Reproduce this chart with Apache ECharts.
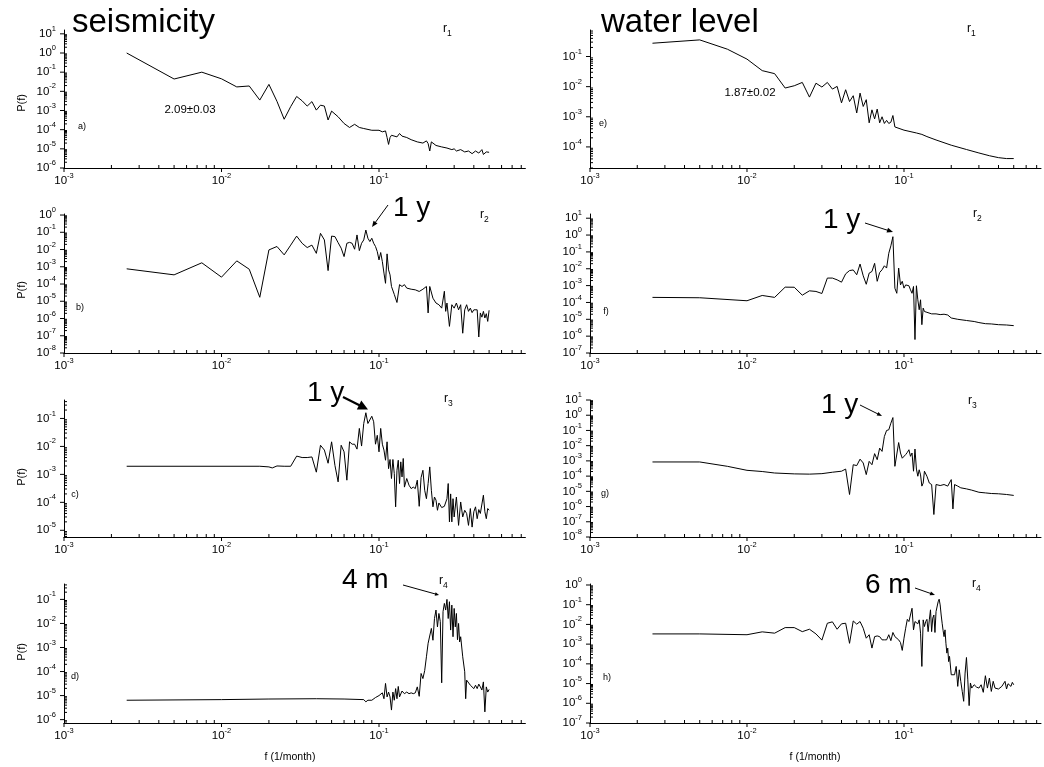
<!DOCTYPE html>
<html><head><meta charset="utf-8">
<script src="https://cdn.jsdelivr.net/npm/echarts@6/dist/echarts.min.js"></script>
<style>html,body{margin:0;padding:0;background:#fff}#c{width:1044px;height:767px}</style>
</head><body><div id="c"></div>
<script>
// ---------------- DATA ----------------
const seisR1 = [[0.0025,1.0],[0.005,0.044],[0.0075,0.1],[0.01,0.045],[0.0125,0.017],[0.015,0.019],[0.0175,0.0035],[0.02,0.023],[0.0225,0.003],[0.025,3.5e-4],[0.0275,1.6e-3],[0.03,5.4e-3],[0.0325,3.2e-3],[0.035,1.7e-3],[0.0375,2.9e-3],[0.04,1.05e-3],[0.0425,1.9e-3],[0.045,1.7e-3],[0.0475,3.2e-4],[0.05,9.3e-4],[0.055,4.7e-4],[0.06,2.1e-4],[0.065,1.3e-4],[0.07,1.9e-4],[0.075,1.3e-4],[0.08,1.15e-4],[0.09,9.3e-5],[0.1,9.3e-5],[0.105,7.7e-5],[0.11,8.6e-5],[0.1125,3.9e-5],[0.115,1.7e-5],[0.1175,3.9e-5],[0.12,5.1e-5],[0.13,4.2e-5],[0.135,6.3e-5],[0.14,4.6e-5],[0.15,3.9e-5],[0.16,3e-5],[0.175,2.3e-5],[0.19,2e-5],[0.2,2.6e-5],[0.205,1.9e-5],[0.21,7.7e-6],[0.215,2.3e-5],[0.22,2e-5],[0.23,1.5e-5],[0.25,1.26e-5],[0.27,1.1e-5],[0.29,9.1e-6],[0.3,1e-5],[0.31,7.7e-6],[0.33,9.1e-6],[0.35,6.9e-6],[0.37,7.7e-6],[0.39,5.6e-6],[0.41,7.7e-6],[0.43,6e-6],[0.45,9.1e-6],[0.46,5.1e-6],[0.48,6.9e-6],[0.5,6.6e-6]];
const waterR1 = [[0.0025,0.276],[0.005,0.356],[0.0075,0.175],[0.01,0.082],[0.0125,0.034],[0.015,0.027],[0.0175,0.009],[0.02,0.0107],[0.0225,0.0138],[0.025,0.0045],[0.0275,0.013],[0.03,0.0097],[0.0325,0.0138],[0.035,0.0083],[0.0375,0.0102],[0.04,0.0029],[0.0425,0.0079],[0.045,0.0032],[0.0475,0.005],[0.05,0.00134],[0.0525,0.0061],[0.055,0.0022],[0.0575,0.0037],[0.06,6.3e-4],[0.0625,0.0017],[0.065,8.5e-4],[0.0675,0.0018],[0.07,6.3e-4],[0.0725,1e-3],[0.075,6e-4],[0.0775,7.6e-4],[0.08,6e-4],[0.0825,6.6e-4],[0.085,1.1e-3],[0.0875,4.6e-4],[0.09,4.3e-4],[0.1,3.6e-4],[0.12,2.9e-4],[0.13,2.6e-4],[0.14,2.2e-4],[0.16,1.7e-4],[0.2,1.14e-4],[0.25,8.2e-5],[0.3,6.3e-5],[0.35,5.1e-5],[0.4,4.4e-5],[0.45,4.1e-5],[0.5,4.1e-5]];
const seisR2 = [[0.0025,7.6e-4],[0.005,3.4e-4],[0.0075,1.7e-3],[0.01,2.5e-4],[0.0125,2.2e-3],[0.015,7.2e-4],[0.0175,1.7e-5],[0.02,9.5e-3],[0.0225,0.015],[0.025,4.9e-3],[0.0275,0.018],[0.03,0.06],[0.0325,0.023],[0.035,0.013],[0.0375,0.018],[0.04,6e-3],[0.0425,0.087],[0.045,0.036],[0.0475,6e-4],[0.05,0.06],[0.0525,0.056],[0.055,0.025],[0.0575,0.012],[0.06,3.9e-3],[0.0625,0.023],[0.065,0.026],[0.0675,0.023],[0.07,0.0104],[0.0725,0.07],[0.075,8.6e-3],[0.0775,0.023],[0.08,0.036],[0.0825,0.135],[0.085,0.045],[0.0875,0.029],[0.09,0.045],[0.0925,0.023],[0.095,0.015],[0.0975,7.6e-3],[0.1,2.5e-3],[0.1025,6.7e-3],[0.105,2e-3],[0.1075,4.3e-4],[0.11,1.1e-4],[0.1125,5.6e-3],[0.115,6.6e-4],[0.1175,3.4e-4],[0.12,7.2e-5],[0.125,2.5e-5],[0.13,8.5e-6],[0.135,9.2e-5],[0.14,7.2e-5],[0.145,9.2e-5],[0.15,5.8e-5],[0.16,5e-5],[0.17,4.6e-5],[0.18,3.7e-5],[0.19,5e-5],[0.2,7.2e-5],[0.205,2.1e-6],[0.21,7.2e-5],[0.22,1.5e-5],[0.23,7.9e-6],[0.24,6.3e-6],[0.25,4e-6],[0.26,3.8e-5],[0.265,2.6e-6],[0.27,7.9e-6],[0.28,3.5e-7],[0.29,6.3e-6],[0.3,4e-6],[0.31,7.9e-6],[0.32,3.2e-6],[0.33,6.3e-6],[0.34,1.4e-7],[0.35,3.2e-6],[0.36,6.3e-6],[0.37,2.6e-6],[0.38,4e-6],[0.39,2.2e-6],[0.4,3.2e-6],[0.41,2.6e-6],[0.42,3.2e-6],[0.43,8.5e-8],[0.44,2.1e-6],[0.45,1.2e-6],[0.46,2.6e-6],[0.47,1.07e-6],[0.48,1.9e-6],[0.49,6.8e-7],[0.5,3e-6]];
const waterR2 = [[0.0025,2e-4],[0.005,1.9e-4],[0.01,1.26e-4],[0.0125,2.6e-4],[0.015,2e-4],[0.0175,8.1e-4],[0.02,8e-4],[0.0225,2.7e-4],[0.025,4.9e-4],[0.0275,4.5e-4],[0.03,3.4e-4],[0.0325,2.8e-3],[0.035,2.8e-3],[0.0375,2.2e-3],[0.04,1.6e-3],[0.0425,5e-3],[0.045,7.8e-3],[0.0475,8.5e-3],[0.05,4.4e-3],[0.0525,0.019],[0.055,3.8e-3],[0.0575,1.2e-3],[0.06,5.5e-3],[0.0625,6.9e-3],[0.065,0.021],[0.0675,1.8e-3],[0.07,6e-3],[0.0725,8.7e-3],[0.075,0.015],[0.0775,0.011],[0.08,0.083],[0.0825,0.23],[0.085,0.8],[0.0875,7e-4],[0.09,3.5e-4],[0.0925,0.011],[0.095,1.1e-3],[0.0975,1.8e-3],[0.1,7.1e-4],[0.1025,1.1e-3],[0.105,8.9e-4],[0.1075,9.8e-4],[0.11,5.6e-4],[0.1125,3.5e-4],[0.115,8.9e-4],[0.1175,6.3e-7],[0.12,9.8e-4],[0.1225,1.44e-4],[0.125,3.7e-5],[0.1275,1.44e-4],[0.13,4.8e-6],[0.1325,4.6e-5],[0.135,2.9e-5],[0.1375,3.7e-5],[0.14,2.6e-5],[0.15,2.1e-5],[0.16,2.1e-5],[0.17,1.9e-5],[0.18,2e-5],[0.19,1.8e-5],[0.2,1.2e-5],[0.22,1e-5],[0.25,8.5e-6],[0.28,7.4e-6],[0.3,6.4e-6],[0.33,5.5e-6],[0.36,5.3e-6],[0.4,4.8e-6],[0.45,4.6e-6],[0.5,4.2e-6]];
const seisR3 = [[0.0025,1.95e-3],[0.0175,1.95e-3],[0.02,1.85e-3],[0.021,1.7e-3],[0.0225,2e-3],[0.025,1.95e-3],[0.0275,1.95e-3],[0.03,4.5e-3],[0.0325,4e-3],[0.035,4e-3],[0.0375,4.2e-3],[0.04,1.2e-3],[0.0425,0.011],[0.045,7.4e-3],[0.0475,2.5e-3],[0.05,0.0146],[0.0525,2.1e-3],[0.055,5.4e-4],[0.0575,0.011],[0.06,6.4e-3],[0.0625,6.2e-4],[0.065,0.0146],[0.0675,0.012],[0.07,0.012],[0.0725,8e-3],[0.075,0.044],[0.0775,0.0103],[0.08,0.066],[0.0825,0.16],[0.085,0.066],[0.0875,0.063],[0.09,0.12],[0.0925,0.076],[0.095,0.012],[0.0975,0.025],[0.1,6.4e-3],[0.1025,0.044],[0.105,0.012],[0.1075,7.4e-3],[0.11,3.2e-3],[0.1125,0.0146],[0.115,1.6e-3],[0.1175,3.4e-3],[0.12,7.1e-4],[0.1225,3.4e-3],[0.125,1.07e-3],[0.1275,6.9e-5],[0.13,1.4e-3],[0.1325,3.2e-3],[0.135,4.7e-4],[0.1375,2.8e-3],[0.14,8.1e-4],[0.1425,3.7e-3],[0.145,3.5e-4],[0.15,7.1e-4],[0.155,4.1e-4],[0.16,3.1e-4],[0.165,3.5e-4],[0.17,3.1e-4],[0.175,6.2e-4],[0.18,7.2e-5],[0.185,7.7e-4],[0.19,1.4e-3],[0.195,2.7e-4],[0.2,1.35e-4],[0.205,4.7e-4],[0.21,1.85e-3],[0.215,2.7e-4],[0.22,6.9e-5],[0.225,1.55e-4],[0.23,1.2e-4],[0.235,5.2e-5],[0.24,9.5e-5],[0.25,6.5e-5],[0.26,7.2e-5],[0.27,1.35e-4],[0.275,4.7e-4],[0.28,2e-5],[0.285,2e-4],[0.29,2e-5],[0.295,1.35e-4],[0.3,3e-5],[0.31,1.55e-4],[0.32,1.5e-5],[0.33,1.03e-4],[0.34,3e-5],[0.35,5.2e-5],[0.36,4e-5],[0.37,1.5e-5],[0.38,6e-5],[0.39,1.3e-5],[0.4,4.6e-5],[0.41,6.9e-5],[0.42,2.6e-5],[0.43,5.5e-5],[0.44,4e-5],[0.45,4.6e-5],[0.46,1.8e-4],[0.47,4.6e-5],[0.48,2.6e-5],[0.49,6e-5],[0.5,5.2e-5]];
const waterR3 = [[0.0025,8.5e-4],[0.005,8.5e-4],[0.0075,4.4e-4],[0.01,2.4e-4],[0.0125,2e-4],[0.015,1.6e-4],[0.02,1.4e-4],[0.025,1.35e-4],[0.03,1.45e-4],[0.035,1.8e-4],[0.04,2.1e-4],[0.0425,2.9e-4],[0.045,6.2e-6],[0.0475,5.6e-4],[0.05,4.9e-4],[0.0525,1.3e-3],[0.055,7.3e-4],[0.0575,1.26e-4],[0.06,9.3e-4],[0.0625,5.6e-4],[0.065,3e-3],[0.0675,1.2e-3],[0.07,6.9e-3],[0.0725,4.2e-3],[0.075,0.04],[0.0775,0.1],[0.08,0.11],[0.0825,0.3],[0.085,0.7],[0.0875,4.4e-4],[0.09,4.9e-4],[0.0925,0.016],[0.095,3.3e-3],[0.0975,1.5e-3],[0.1,1.8e-3],[0.1025,2.6e-3],[0.105,3.6e-3],[0.1075,5.4e-3],[0.11,2e-3],[0.1125,3.3e-3],[0.115,2.1e-4],[0.1175,6e-3],[0.12,2.9e-4],[0.1225,9.8e-5],[0.125,2.6e-4],[0.1275,1.2e-4],[0.13,2.2e-5],[0.1325,3.5e-5],[0.135,2.1e-4],[0.14,9.8e-5],[0.145,3.5e-5],[0.15,2.8e-5],[0.155,3e-7],[0.16,2.8e-5],[0.17,2.4e-5],[0.18,2.8e-5],[0.19,2.2e-5],[0.195,2.8e-5],[0.2,5.9e-5],[0.205,7e-7],[0.21,2.8e-5],[0.22,2.2e-5],[0.23,1.7e-5],[0.25,1.45e-5],[0.27,1.2e-5],[0.3,8.7e-6],[0.33,7.9e-6],[0.36,7.2e-6],[0.4,6.9e-6],[0.45,6.2e-6],[0.5,5.4e-6]];
const seisR4 = [[0.0025,6.4e-6],[0.01,6.8e-6],[0.02,7.2e-6],[0.04,7.4e-6],[0.06,7.2e-6],[0.08,6.8e-6],[0.0825,5.5e-6],[0.085,6.4e-6],[0.0875,5.5e-6],[0.09,6.4e-6],[0.0925,5.5e-6],[0.095,8.3e-6],[0.0975,7.4e-6],[0.1,1e-5],[0.1025,8.8e-6],[0.105,1.3e-5],[0.1075,7.4e-6],[0.11,3.2e-5],[0.1125,8.8e-6],[0.115,1.4e-5],[0.1175,8.8e-6],[0.12,2.5e-6],[0.1225,1.4e-5],[0.125,6.4e-6],[0.1275,1.95e-5],[0.13,7.4e-6],[0.1325,2.4e-5],[0.135,8.8e-6],[0.14,1.55e-5],[0.145,1.2e-5],[0.15,1.4e-5],[0.155,1.2e-5],[0.16,1.3e-5],[0.165,1.2e-5],[0.17,1.3e-5],[0.175,2.3e-5],[0.18,9.3e-6],[0.185,8.3e-5],[0.19,5.1e-5],[0.195,1.1e-4],[0.2,4.1e-4],[0.205,1.5e-3],[0.21,1.26e-3],[0.215,6.2e-3],[0.22,2e-3],[0.225,0.016],[0.23,0.036],[0.235,7.2e-3],[0.24,0.026],[0.245,0.012],[0.25,3.4e-5],[0.255,0.031],[0.26,0.068],[0.265,0.036],[0.27,0.1],[0.275,0.016],[0.28,0.08],[0.285,5.3e-3],[0.29,0.058],[0.295,2.8e-3],[0.3,0.042],[0.305,7.2e-3],[0.31,0.026],[0.315,2.1e-3],[0.32,0.01],[0.325,1.7e-3],[0.33,2.8e-3],[0.34,4.1e-4],[0.35,9.8e-5],[0.355,7.4e-6],[0.36,4.4e-5],[0.37,3.7e-5],[0.38,2.7e-5],[0.39,3.2e-5],[0.4,1.95e-5],[0.41,2.7e-5],[0.42,1.95e-5],[0.43,3e-5],[0.44,2.3e-5],[0.45,1.7e-5],[0.46,3.7e-5],[0.47,2.1e-6],[0.48,2.3e-5],[0.49,1.4e-5],[0.5,1.8e-5]];
const waterR4 = [[0.0025,3.3e-3],[0.005,3.3e-3],[0.01,3e-3],[0.0125,4.2e-3],[0.015,3.6e-3],[0.0175,6.9e-3],[0.02,6.9e-3],[0.0225,4.3e-3],[0.025,5.7e-3],[0.0275,3.3e-3],[0.03,1.6e-3],[0.0325,0.0115],[0.035,0.0135],[0.0375,5.7e-3],[0.04,0.0107],[0.0425,0.0115],[0.045,1.1e-3],[0.0475,0.015],[0.05,0.0103],[0.0525,0.014],[0.055,6.4e-3],[0.0575,2e-3],[0.06,3e-3],[0.0625,6.3e-4],[0.065,2.4e-3],[0.0675,2.6e-3],[0.07,2.4e-3],[0.0725,1.65e-3],[0.075,1.65e-3],[0.0775,1.65e-3],[0.08,3e-3],[0.0825,1.5e-3],[0.085,3.9e-3],[0.0875,2.4e-3],[0.09,2e-3],[0.0925,1.65e-3],[0.095,1.2e-3],[0.0975,4.8e-4],[0.1,2e-3],[0.1025,6.4e-3],[0.105,0.018],[0.1075,0.014],[0.11,0.0115],[0.1125,0.066],[0.115,5.3e-3],[0.1175,0.014],[0.12,0.017],[0.1225,0.0107],[0.125,0.017],[0.1275,3.6e-3],[0.13,7.4e-5],[0.1325,0.017],[0.135,7.8e-3],[0.1375,0.014],[0.14,0.018],[0.1425,4.3e-3],[0.145,0.017],[0.1475,0.055],[0.15,4.3e-3],[0.1525,0.021],[0.155,0.03],[0.1575,3.9e-3],[0.16,0.045],[0.1625,0.037],[0.165,0.14],[0.1675,0.19],[0.17,0.098],[0.1725,0.03],[0.175,0.0115],[0.1775,4.9e-3],[0.18,2.4e-3],[0.1825,5.3e-3],[0.185,1.1e-3],[0.1875,3.5e-4],[0.19,6.3e-4],[0.1925,1.3e-4],[0.195,2.4e-4],[0.2,2.8e-5],[0.205,3.4e-5],[0.21,2.8e-5],[0.215,7.4e-5],[0.22,7.2e-6],[0.225,5e-5],[0.23,1.3e-5],[0.235,4e-6],[0.24,1.26e-6],[0.245,3.4e-5],[0.25,2.1e-4],[0.255,1.55e-5],[0.26,7.6e-7],[0.265,1.07e-5],[0.27,5.9e-6],[0.28,8.7e-6],[0.29,6.6e-6],[0.3,5.9e-6],[0.31,8.7e-6],[0.32,3.6e-6],[0.33,2.5e-5],[0.34,5.9e-6],[0.35,1.9e-5],[0.36,4e-6],[0.37,1.3e-5],[0.38,5.9e-6],[0.39,7.2e-6],[0.4,5.3e-6],[0.42,7.2e-6],[0.44,1.3e-5],[0.45,5.3e-6],[0.46,9.8e-6],[0.48,7.2e-6],[0.49,1.15e-5],[0.5,8.7e-6]];

// tick label exponents (labels shown as 10^e)
const xLabelExps = [-3, -2, -1];
const yLabelsA = [1, 0, -1, -2, -3, -4, -5, -6];
const yLabelsE = [-1, -2, -3, -4];
const yLabelsB = [0, -1, -2, -3, -4, -5, -6, -7, -8];
const yLabelsF = [1, 0, -1, -2, -3, -4, -5, -6, -7];
const yLabelsC = [-1, -2, -3, -4, -5];
const yLabelsG = [1, 0, -1, -2, -3, -4, -5, -6, -7, -8];
const yLabelsD = [-1, -2, -3, -4, -5, -6];
const yLabelsH = [0, -1, -2, -3, -4, -5, -6, -7];

const panelLetters = ['a)', 'e)', 'b)', 'f)', 'c)', 'g)', 'd)', 'h)'];
const fitTexts = ['2.09\u00b10.03', '1.87\u00b10.02'];
const peakTexts = ['1 y', '1 y', '1 y', '1 y', '4 m', '6 m'];

// ---------------- LAYOUT ----------------
const FONT = "'Liberation Sans', Arial, Helvetica, sans-serif";
const cols = [
  {left: 64, width: 461.4, xMin: 0.001, xMax: 0.85},
  {left: 590, width: 454, xMin: 0.001, xMax: 0.746}
];
const rows = [{top: 30, bottom: 168}, {top: 214, bottom: 353}, {top: 400, bottom: 537}, {top: 584, bottom: 723}];
const panels = [
  {data: seisR1, col: 0, row: 0, yE: [-6, 1.2], labels: yLabelsA},
  {data: waterR1, col: 1, row: 0, yE: [-4.7, -0.12], labels: yLabelsE},
  {data: seisR2, col: 0, row: 1, yE: [-8, 0.06], labels: yLabelsB},
  {data: waterR2, col: 1, row: 1, yE: [-7, 1.25], labels: yLabelsF},
  {data: seisR3, col: 0, row: 2, yE: [-5.24, -0.34], labels: yLabelsC},
  {data: waterR3, col: 1, row: 2, yE: [-8, 1.0], labels: yLabelsG},
  {data: seisR4, col: 0, row: 3, yE: [-6.14, -0.36], labels: yLabelsD},
  {data: waterR4, col: 1, row: 3, yE: [-7, 0.05], labels: yLabelsH}
];

const RICH = {
  b: {fontSize: 11.5, fontFamily: FONT, color: '#000', verticalAlign: 'bottom', lineHeight: 12},
  s: {fontSize: 7.5, fontFamily: FONT, color: '#000', verticalAlign: 'bottom', lineHeight: 8, padding: [0, 0, 7, 0]}
};
function expOf(v) {
  const l = Math.log10(v), e = Math.round(l);
  return Math.abs(l - e) < 1e-6 ? e : null;
}
function powLabel(list) {
  return function (v) {
    const e = expOf(v);
    if (e === null || list.indexOf(e) < 0) return '';
    return '{b|10}{s|' + e + '}';
  };
}
function tickData(xMin, xMax, yMin, yMax) {
  const d = [];
  for (let e = Math.floor(Math.log10(xMin) + 1e-9); e <= Math.ceil(Math.log10(xMax) - 1e-9); e++) {
    for (let k = 1; k <= 9; k++) {
      const v = k * Math.pow(10, e);
      if (v < xMin * 0.9999 || v > xMax * 1.0001) continue;
      d.push([v, yMin, k === 1 ? 0 : 1]);
    }
  }
  for (let e = Math.floor(Math.log10(yMin) - 1e-9); e <= Math.ceil(Math.log10(yMax) + 1e-9); e++) {
    for (let k = 1; k <= 9; k++) {
      const v = k * Math.pow(10, e);
      if (v < yMin * 0.9999 || v > yMax * 1.0001) continue;
      d.push([xMin, v, k === 1 ? 2 : 3]);
    }
  }
  return d;
}
function renderTicks(params, api) {
  const kind = api.value(2);
  const p = api.coord([api.value(0), api.value(1)]);
  let x1 = p[0], y1 = p[1], x2 = p[0], y2 = p[1];
  if (kind === 0) y2 = y1 + 4;
  else if (kind === 1) y2 = y1 - 3;
  else if (kind === 2) x2 = x1 - 4;
  else x2 = x1 + 3;
  return {type: 'line', shape: {x1: x1, y1: y1, x2: x2, y2: y2}, style: {stroke: '#000', lineWidth: 1}};
}

const grids = [], xAxes = [], yAxes = [], series = [];
panels.forEach(function (p, i) {
  const c = cols[p.col], r = rows[p.row];
  const yMin = Math.pow(10, p.yE[0]), yMax = Math.pow(10, p.yE[1]);
  grids.push({left: c.left, top: r.top, width: c.width, height: r.bottom - r.top, containLabel: false});
  xAxes.push({
    type: 'log', logBase: 10, gridIndex: i, min: c.xMin, max: c.xMax,
    axisLine: {show: true, onZero: false, lineStyle: {color: '#000', width: 1}},
    axisTick: {show: false}, splitLine: {show: false}, minorTick: {show: false}, minorSplitLine: {show: false},
    axisLabel: {margin: 7, formatter: powLabel(xLabelExps), rich: RICH, showMinLabel: true, showMaxLabel: true}
  });
  yAxes.push({
    type: 'log', logBase: 10, gridIndex: i, min: yMin, max: yMax,
    axisLine: {show: true, onZero: false, lineStyle: {color: '#000', width: 1}},
    axisTick: {show: false}, splitLine: {show: false}, minorTick: {show: false}, minorSplitLine: {show: false},
    axisLabel: {margin: 8, formatter: powLabel(p.labels), rich: RICH, showMinLabel: true, showMaxLabel: true}
  });
  series.push({
    type: 'line', xAxisIndex: i, yAxisIndex: i, data: p.data, showSymbol: false, symbol: 'none',
    lineStyle: {color: '#000', width: 1}, silent: true, animation: false
  });
  series.push({
    type: 'custom', xAxisIndex: i, yAxisIndex: i, clip: false, silent: true, animation: false,
    data: tickData(c.xMin, c.xMax, yMin, yMax), encode: {x: 0, y: 1}, renderItem: renderTicks
  });
});

// ---------------- ANNOTATIONS ----------------
const graphics = [];
function txt(x, y, text, size, extra) {
  graphics.push(Object.assign({
    type: 'text', x: x, y: y, silent: true,
    style: Object.assign({text: text, fontSize: size, fontFamily: FONT, fill: '#000', align: 'left', verticalAlign: 'middle'}, extra || {})
  }));
}
function rlabel(x, y, n) {
  graphics.push({
    type: 'text', x: x, y: y, silent: true,
    style: {
      text: '{r|r}{n|' + n + '}', align: 'left', verticalAlign: 'middle', fill: '#000',
      rich: {
        r: {fontSize: 12, fontFamily: FONT, color: '#000', verticalAlign: 'top', lineHeight: 13},
        n: {fontSize: 8.5, fontFamily: FONT, color: '#000', verticalAlign: 'top', lineHeight: 9, padding: [7, 0, 0, 0]}
      }
    }
  });
}
function arrow(x1, y1, x2, y2, lw, hl, hw) {
  const a = Math.atan2(y2 - y1, x2 - x1), c = Math.cos(a), s = Math.sin(a);
  const bx = x2 - hl * c, by = y2 - hl * s;
  graphics.push({type: 'line', silent: true, shape: {x1: x1, y1: y1, x2: bx + c, y2: by + s}, style: {stroke: '#000', lineWidth: lw}});
  graphics.push({type: 'polygon', silent: true, shape: {points: [[x2, y2], [bx - hw * s, by + hw * c], [bx + hw * s, by - hw * c]]}, style: {fill: '#000'}});
}

txt(72, 23, 'seismicity', 33);
txt(601, 23, 'water level', 33);
rlabel(443, 29, '1'); rlabel(967, 29, '1');
rlabel(480, 215, '2'); rlabel(973, 214, '2');
rlabel(444, 399, '3'); rlabel(968, 401, '3');
rlabel(439, 581, '4'); rlabel(972, 584, '4');

const letterPos = [[82, 127], [603, 124], [80, 308], [606, 312], [75, 495], [605, 494], [75, 677], [607, 678]];
panelLetters.forEach(function (t, i) { txt(letterPos[i][0], letterPos[i][1], t, 9, {align: 'center'}); });

txt(190, 110, fitTexts[0], 11.5, {align: 'center'});
txt(750, 93, fitTexts[1], 11.5, {align: 'center'});

const peakPos = [[393, 208], [823, 220], [307, 393], [821, 405], [342, 580], [865, 585]];
peakTexts.forEach(function (t, i) { txt(peakPos[i][0], peakPos[i][1], t, 28); });
arrow(388, 205, 372, 227, 1, 6, 2.5);
arrow(865, 223, 893, 232, 1, 6, 2.5);
arrow(343, 397, 368, 409.5, 2.2, 10, 5);
arrow(860, 405, 882, 416, 1, 5, 2);
arrow(403, 585, 439, 595, 1, 4, 1.8);
arrow(915, 588, 935, 595, 1, 5, 2);

[[22, 103], [22, 290], [22, 477], [22, 652]].forEach(function (p) {
  graphics.push({type: 'text', x: p[0], y: p[1], rotation: Math.PI / 2, silent: true,
    style: {text: 'P(f)', fontSize: 11, fontFamily: FONT, fill: '#000', align: 'center', verticalAlign: 'middle'}});
});
txt(290, 757, 'f (1/month)', 10.5, {align: 'center'});
txt(815, 757, 'f (1/month)', 10.5, {align: 'center'});

const chart = echarts.init(document.getElementById('c'), null, {renderer: 'canvas'});
chart.setOption({
  animation: false,
  backgroundColor: '#fff',
  textStyle: {fontFamily: FONT, color: '#000'},
  grid: grids, xAxis: xAxes, yAxis: yAxes, series: series, graphic: graphics
});
</script></body></html>
